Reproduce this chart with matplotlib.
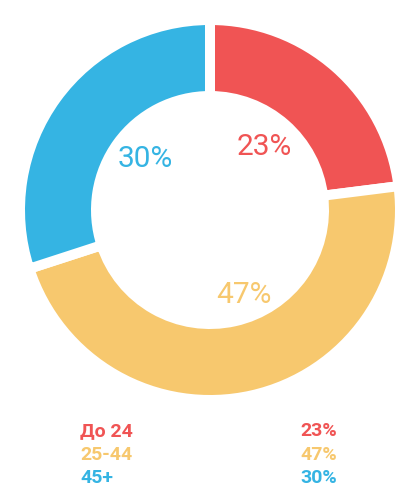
import matplotlib.pyplot as plt
import math

# datos del grafico
grupos = ["До 24", "25-44", "45+"]
valores = [23, 47, 30]
colores = ["#F05454", "#F7C86E", "#35B4E3"]

W, H = 420, 500
fig = plt.figure(figsize=(W / 100, H / 100), dpi=100)
plt.rcParams['font.family'] = ['Roboto', 'DejaVu Sans']

# donut: centro (210, 210) px, radio exterior 185 px
cx, cy, R = 210, 210, 185
ax = fig.add_axes([(cx - R) / W, (H - cy - R) / H, 2 * R / W, 2 * R / H])

gap = 10  # px de separacion blanca
r_ext = (R + gap / 2) / R
r_int = (119 - gap / 2) / R
wedges, _ = ax.pie(valores, colors=colores, startangle=90, counterclock=False,
                   radius=r_ext,
                   wedgeprops=dict(width=r_ext - r_int, edgecolor='white',
                                   linewidth=gap * 0.72))
# pie pone sus propios limites, se corrigen despues
ax.set_xlim(-1, 1)
ax.set_ylim(-1, 1)
ax.set_aspect('equal')
ax.axis('off')

# etiquetas de porcentaje dentro del hueco
acum = 0
offsets = [(-0.015, -0.01), (0.08, 0), (0.03, 0)]
for v, c, off in zip(valores, colores, offsets):
    ang = math.radians(90 - (acum + v / 2) * 3.6)
    acum += v
    x = 0.47 * math.cos(ang) + off[0]
    y = 0.47 * math.sin(ang) + off[1]
    ax.text(x, y, f"{v}%", color=c, fontsize=21.5, ha='center', va='center')

# leyenda inferior
baselines = [436, 460, 483]
for g, v, c, yb in zip(grupos, valores, colores, baselines):
    fig.text(80 / W, 1 - yb / H, g, color=c, fontsize=14, fontweight='bold',
             ha='left', va='baseline')
    fig.text(337 / W, 1 - yb / H, f"{v}%", color=c, fontsize=14,
             fontweight='bold', ha='right', va='baseline')

fig.savefig("out.png", dpi=100, facecolor='white')
